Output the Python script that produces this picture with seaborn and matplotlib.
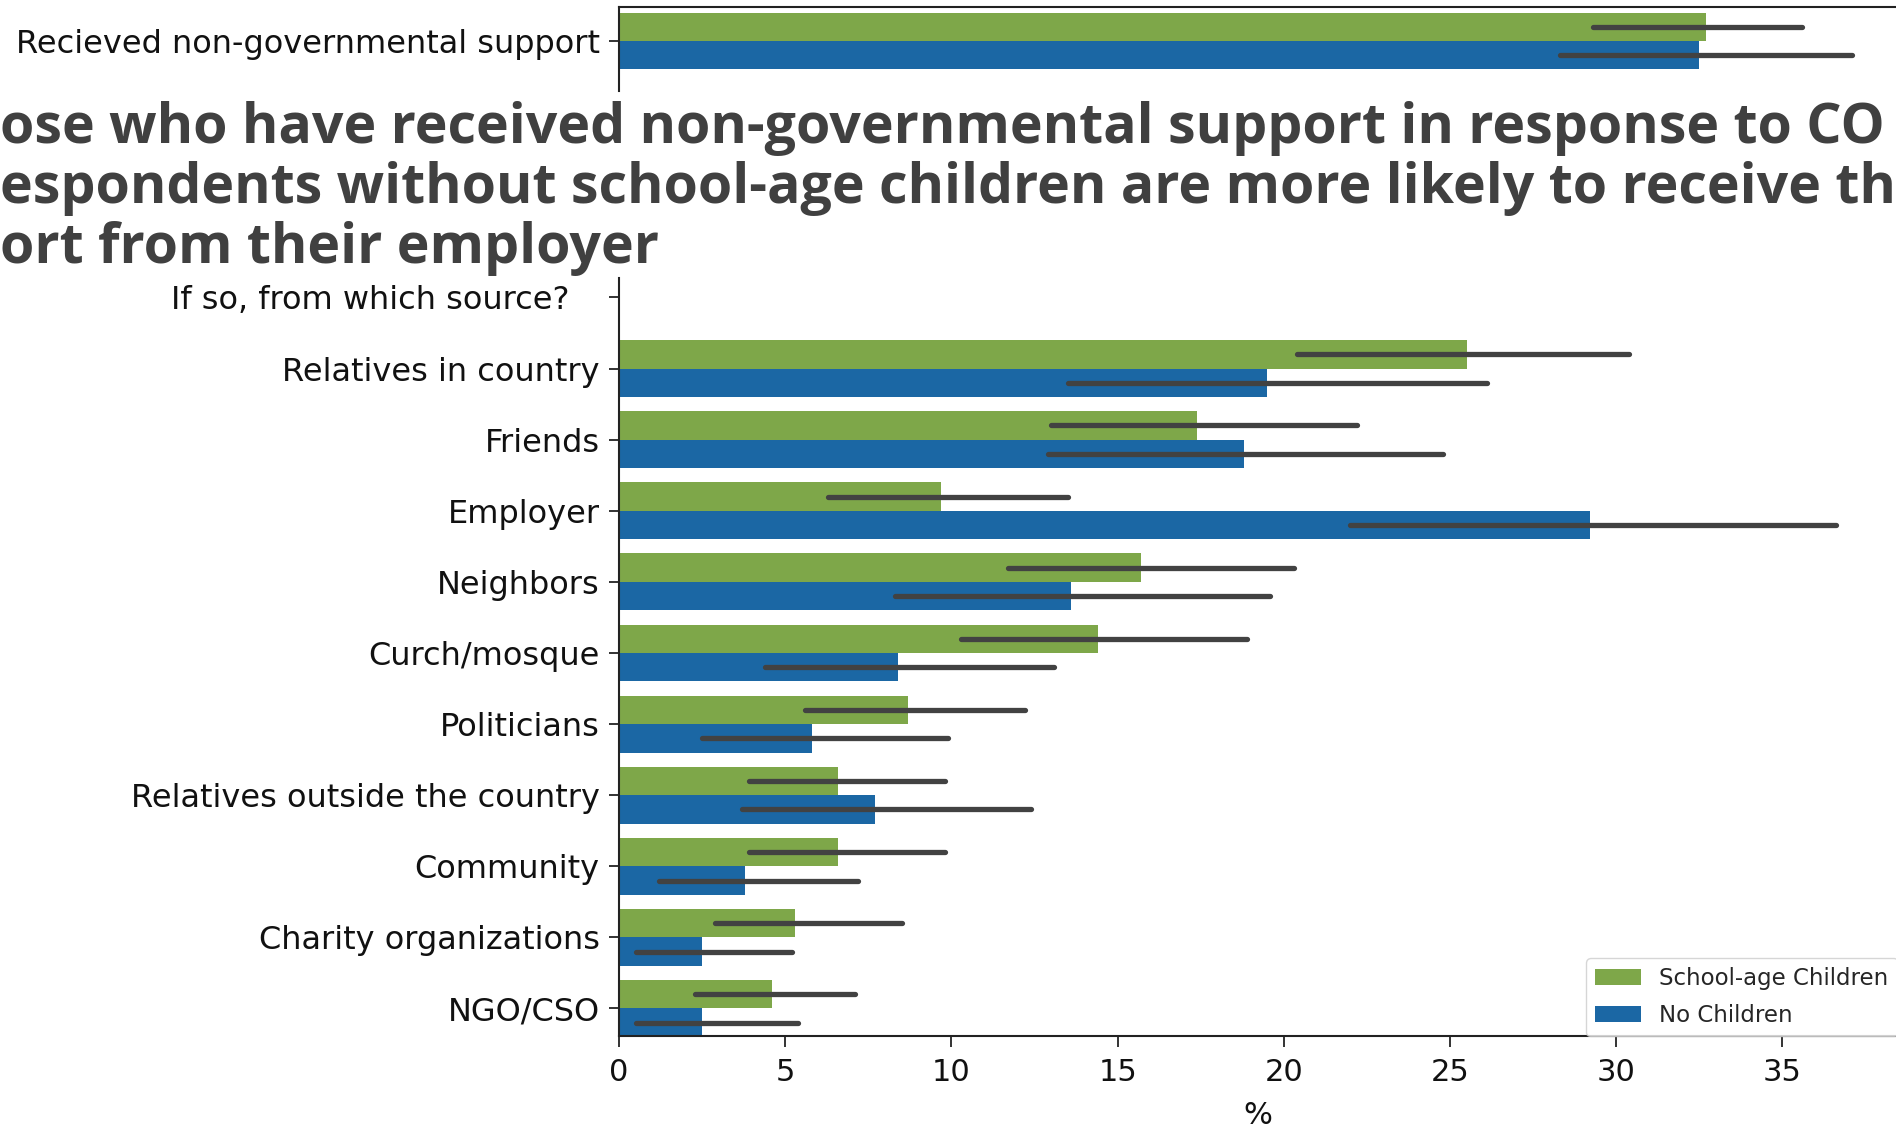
import pandas as pd
import seaborn as sns
import matplotlib.pyplot as plt

# categories
groups = ["School-age Children", "No Children"]
top_label = "Recieved non-governmental support"
header_label = "If so, from which source?   "
sources = ["Relatives in country", "Friends", "Employer", "Neighbors",
           "Curch/mosque", "Politicians", "Relatives outside the country",
           "Community", "Charity organizations", "NGO/CSO"]

# received support (%), with interval ends
received_pct = [32.7, 32.5]
received_lo = [29.3, 28.3]
received_hi = [35.6, 37.1]

# source of support (%), school-age children
school_pct = [25.5, 17.4, 9.7, 15.7, 14.4, 8.7, 6.6, 6.6, 5.3, 4.6]
school_lo = [20.4, 13.0, 6.3, 11.7, 10.3, 5.6, 3.9, 3.9, 2.9, 2.3]
school_hi = [30.4, 22.2, 13.5, 20.3, 18.9, 12.2, 9.8, 9.8, 8.5, 7.1]

# source of support (%), no children
nochild_pct = [19.5, 18.8, 29.2, 13.6, 8.4, 5.8, 7.7, 3.8, 2.5, 2.5]
nochild_lo = [13.5, 12.9, 22.0, 8.3, 4.4, 2.5, 3.7, 1.2, 0.5, 0.5]
nochild_hi = [26.1, 24.8, 36.6, 19.6, 13.1, 9.9, 12.4, 7.2, 5.2, 5.4]

title_lines = ["ose who have received non-governmental support in response to CO",
               "espondents without school-age children are more likely to receive th",
               "ort from their employer"]

GREEN = "#7ea749"
BLUE = "#1b67a4"


def long_form(labels, group, pct, lo, hi):
    rows = []
    for lab, p, l, h in zip(labels, pct, lo, hi):
        for v in (l, p, h):
            rows.append({"source": lab, "group": group, "pct": v})
    return rows


top_df = pd.DataFrame(
    [r for g, p, l, h in zip(groups, received_pct, received_lo, received_hi)
     for r in long_form([top_label], g, [p], [l], [h])])
src_df = pd.DataFrame(long_form(sources, groups[0], school_pct, school_lo, school_hi)
                      + long_form(sources, groups[1], nochild_pct, nochild_lo, nochild_hi))

sns.set_style("ticks")
plt.rcParams["font.family"] = ["DejaVu Sans"]

fig = plt.figure(figsize=(18.96, 11.28), dpi=100)
ax_top = fig.add_axes([619 / 1896, 1 - 91 / 1128, 1 - 619 / 1896, 84 / 1128])
ax = fig.add_axes([619 / 1896, 1 - 1036 / 1128, 1 - 619 / 1896, 758 / 1128])

bar_kws = dict(x="pct", y="source", hue="group", hue_order=groups,
               palette=[GREEN, BLUE], saturation=1, estimator="median",
               errorbar=lambda v: (v.min(), v.max()), linewidth=0,
               err_kws={"color": ".26", "linewidth": 3.8})

sns.barplot(data=top_df, order=[top_label], ax=ax_top, legend=False, **bar_kws)
sns.barplot(data=src_df, order=[header_label] + sources, ax=ax, **bar_kws)

for a in (ax_top, ax):
    a.set_xlim(0, 38.42)
    a.set_ylabel("")
    a.spines["right"].set_visible(False)
    a.tick_params(axis="y", labelsize=23, length=7, width=1.2, pad=7, colors="#111111")
    for s in a.spines.values():
        s.set_linewidth(1.5)
        s.set_color("#222222")

ax_top.set_ylim(0.703, -0.478)
ax_top.spines["bottom"].set_visible(False)
ax_top.tick_params(axis="x", bottom=False, labelbottom=False)
ax_top.set_xlabel("")

ax.set_ylim(10.387, -0.274)
ax.spines["top"].set_visible(False)
ax.set_xticks(range(0, 40, 5))
ax.tick_params(axis="x", labelsize=22, length=8, width=1.2, pad=8, colors="#111111")
ax.set_xlabel("%", fontsize=22, labelpad=10, color="#111111")

sns.move_legend(ax, "upper left", bbox_to_anchor=(1586 / 1896, 1 - 958 / 1128),
                bbox_transform=fig.transFigure, title=None, fontsize=16.5,
                frameon=True, borderaxespad=0, handlelength=2.0, labelspacing=0.6)

fig.text(0.0, 1 - 101 / 1128, "\n".join(title_lines), ha="left", va="top",
         fontsize=40, fontweight="bold", family=["Open Sans", "DejaVu Sans"],
         color="#404040", linespacing=1.12)

plt.savefig("out.png", dpi=100)
